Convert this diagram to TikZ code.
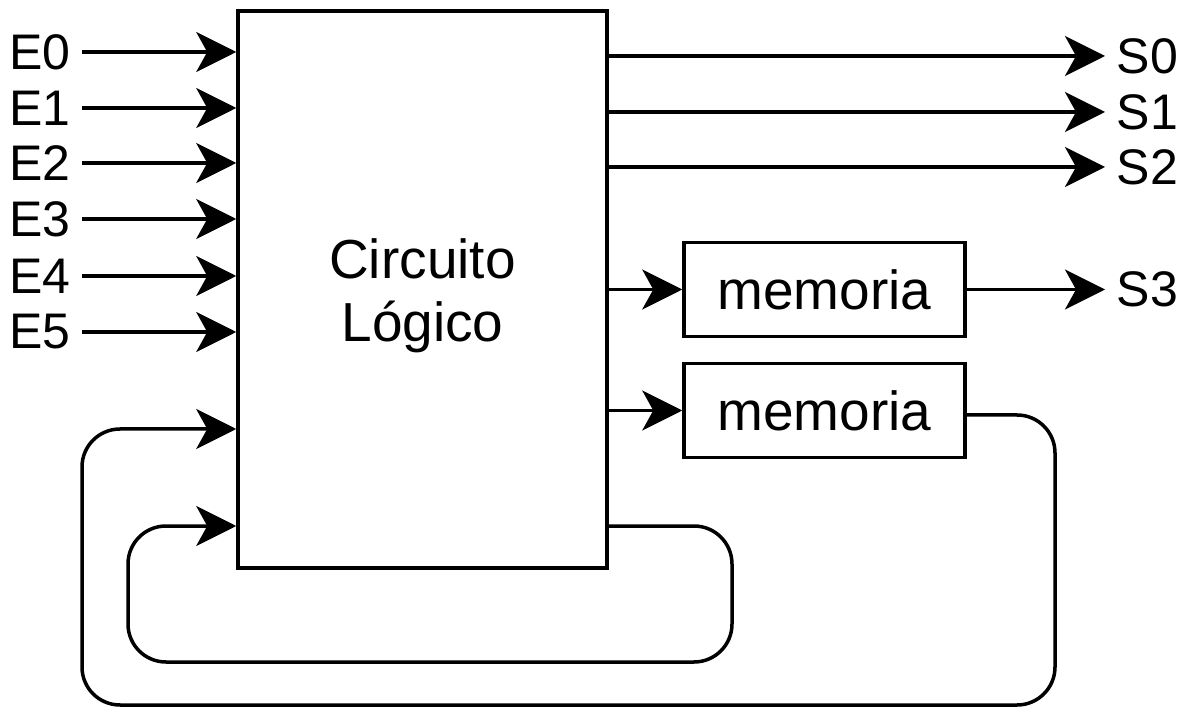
\documentclass[tikz,border=0pt]{standalone}
\usepackage{fontspec}
\setmainfont{Liberation Sans}
\usetikzlibrary{arrows.meta}
\begin{document}
\begin{tikzpicture}[x=1pt,y=-1pt,
  line width=3.5pt,
  arr/.style={-{Stealth[length=40pt,width=40pt,inset=11pt]}},
  lbl/.style={font=\fontsize{50}{60}\selectfont, inner ysep=0pt, inner xsep=10pt},
  blk/.style={draw, line width=3.5pt, inner sep=0pt, align=center, font=\fontsize{55}{63}\selectfont},
  blktext/.style={inner sep=0pt, align=center, font=\fontsize{55}{63}\selectfont}]
\useasboundingbox[fill=white] (0,0) rectangle (1184,708);
% main block
\node[blk, minimum width=369pt, minimum height=557pt,
      label={[blktext, yshift=-6pt]center:{Circuito\\Lógico}}] (cl) at (422.5,289.5) {};
% memory blocks
\node[blk, minimum width=281pt, minimum height=94pt] (m1) at (824.5,289.5) {memoria};
\node[blk, minimum width=281pt, minimum height=94pt] (m2) at (824.5,410.5) {memoria};
% input labels
\foreach \i/\y in {0/52,1/108,2/163,3/219,4/276,5/332}{
  \node[lbl, anchor=east] (le\i) at (82,\y) {E\i};
  \draw[arr] (le\i.east) -- (le\i.east -| cl.west);
}
% output labels
\foreach \i/\y in {0/56,1/112,2/167}{
  \node[lbl, anchor=west] (ls\i) at (1105,\y) {S\i};
  \draw[arr] (ls\i.west -| cl.east) -- (ls\i.west);
}
\node[lbl, anchor=west] (ls3) at (1105,289.5) {S3};
% to memories
\draw[arr] (m1.west -| cl.east) -- (m1.west);
\draw[arr] (m2.west -| cl.east) -- (m2.west);
\draw[arr] (m1.east) -- (ls3.west);
% feedback loops
\coordinate (o1) at (82,429);
\coordinate (o2) at (1055,705);
\coordinate (i1) at (128,526);
\coordinate (i2) at (732,662);
\draw[arr, rounded corners=38pt] ([yshift=-4.5pt]m2.east) -| (o2) -| (o1) -- (o1 -| cl.west);
\draw[arr, rounded corners=38pt] (i1 -| cl.east) -| (i2) -| (i1) -- (i1 -| cl.west);
\end{tikzpicture}
\end{document}
